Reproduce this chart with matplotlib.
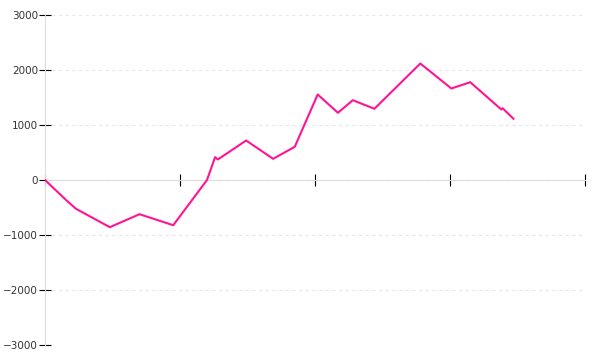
import matplotlib
matplotlib.use('Agg')
import matplotlib.pyplot as plt

# values (x in tick units * 100, y in points)
x_vals = [0, 16, 23, 48, 70, 95, 120, 126, 128, 149, 169, 185, 202, 217, 228,
          244, 278, 301, 315, 338, 339, 347]
y_vals = [0, -373, -524, -858, -622, -822, 0, 415, 373, 718, 385, 604, 1555,
          1222, 1451, 1295, 2118, 1664, 1778, 1282, 1305, 1113]

x_ticks = [0, 100, 200, 300, 400]
y_ticks = [-3000, -2000, -1000, 0, 1000, 2000, 3000]

fig = plt.figure(figsize=(6, 3.6), dpi=100)
ax = fig.add_axes([45 / 600, 15 / 360, 540 / 600, 330 / 360])

ax.plot(x_vals, y_vals, color='#ff1493', linewidth=1.5, zorder=3)

ax.set_xlim(0, 400)
ax.set_ylim(-3000, 3000)
ax.set_xticks(x_ticks)
ax.set_xticklabels([])
ax.set_yticks(y_ticks)

ax.yaxis.grid(True, color='#e8e8e8', linestyle=(0, (3, 3)), linewidth=0.8)
ax.set_axisbelow(True)

for side in ['top', 'right']:
    ax.spines[side].set_visible(False)
ax.spines['bottom'].set_position(('data', 0))
ax.spines['bottom'].set_color('#dddddd')
ax.spines['left'].set_color('#dddddd')

ax.tick_params(axis='x', direction='inout', length=8, width=0.8, color='black')
ax.tick_params(axis='y', direction='inout', length=8, width=0.8, color='black',
               labelsize=7.5, labelcolor='#333333', pad=1)

fig.savefig('out.png', dpi=100)
